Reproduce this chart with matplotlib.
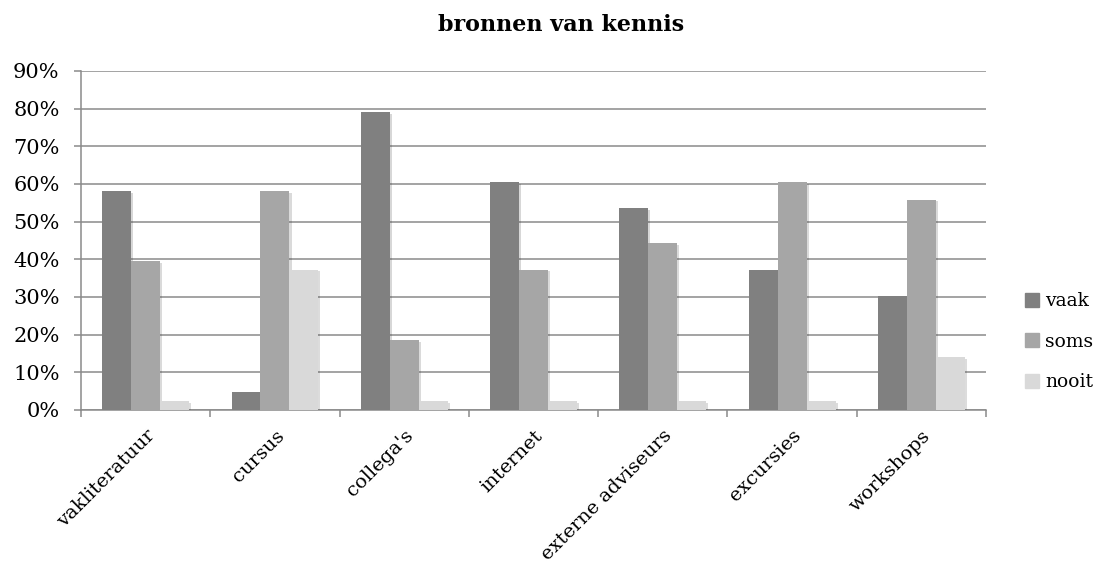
import matplotlib.pyplot as plt
import matplotlib.patheffects as pe
import numpy as np
from matplotlib.ticker import PercentFormatter

# bronnen en antwoorden (aandeel respondenten)
bronnen = ['vakliteratuur', 'cursus', "collega's", 'internet',
           'externe adviseurs', 'excursies', 'workshops']
vaak = [58.1, 4.7, 79.1, 60.5, 53.5, 37.2, 30.2]
soms = [39.5, 58.1, 18.6, 37.2, 44.2, 60.5, 55.8]
nooit = [2.3, 37.2, 2.3, 2.3, 2.3, 2.3, 14.0]

plt.rcParams['font.family'] = 'DejaVu Serif'

fig = plt.figure(figsize=(10.95, 5.67), dpi=100)
ax = fig.add_axes([0.074, 0.277, 0.8265, 0.598])

x = np.arange(len(bronnen))
w = 0.224
schaduw = [pe.SimplePatchShadow(offset=(1.5, -1.2), alpha=0.18), pe.Normal()]
handles = []
for i, (waarden, kleur, naam) in enumerate([(vaak, '#808080', 'vaak'),
                                             (soms, '#a6a6a6', 'soms'),
                                             (nooit, '#d9d9d9', 'nooit')]):
    bars = ax.bar(x + (i - 1) * w, waarden, w, color=kleur, label=naam, zorder=3)
    for b in bars:
        b.set_path_effects(schaduw)
    handles.append(plt.Rectangle((0, 0), 1, 1, color=kleur))

ax.set_xlim(-0.5, len(bronnen) - 0.5)
ax.set_ylim(0, 90)
ax.set_yticks(np.arange(0, 91, 10))
ax.yaxis.set_major_formatter(PercentFormatter(decimals=0))
ax.grid(axis='y', color='#8a8a8a', linewidth=1.1, zorder=0)
ax.set_axisbelow(True)

ax.set_xticks(x)
ax.set_xticklabels(bronnen, rotation=45, ha='right', rotation_mode='anchor')
ax.set_xticks(np.arange(-0.5, len(bronnen)), minor=True)
ax.tick_params(axis='x', which='major', length=0, pad=12, labelsize=14)
ax.tick_params(axis='x', which='minor', length=5, color='#8a8a8a', width=1.1)
ax.tick_params(axis='y', length=5, color='#8a8a8a', width=1.1, pad=10.5, labelsize=15)

for s in ['top', 'right']:
    ax.spines[s].set_visible(False)
for s in ['left', 'bottom']:
    ax.spines[s].set_color('#8a8a8a')
    ax.spines[s].set_linewidth(1.1)

ax.set_title('bronnen van kennis', fontsize=16, fontweight='bold', pad=29, x=0.53)

fig.legend(handles, ['vaak', 'soms', 'nooit'], loc='center left',
           bbox_to_anchor=(0.929, 0.397), frameon=False,
           fontsize=13.5, handlelength=0.75, handleheight=0.75, handletextpad=0.35,
           labelspacing=1.2, borderaxespad=0)

fig.savefig('out.png', dpi=100)
